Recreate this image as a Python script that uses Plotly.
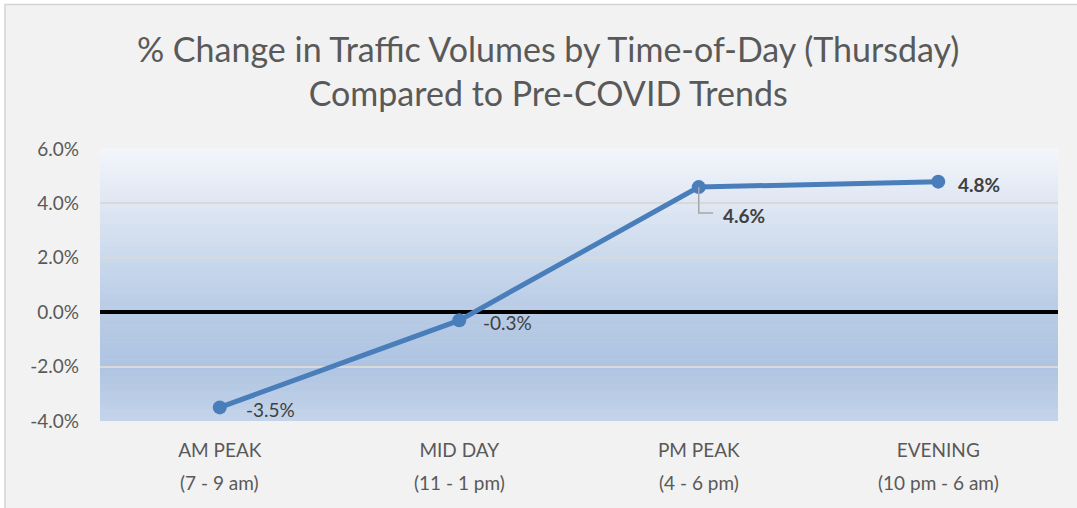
import plotly.graph_objects as go

categories = ["AM PEAK", "MID DAY", "PM PEAK", "EVENING"]
category_times = ["(7 - 9 am)", "(11 - 1 pm)", "(4 - 6 pm)", "(10 pm - 6 am)"]
values = [-3.5, -0.3, 4.6, 4.8]
value_labels = ["-3.5%", "-0.3%", "4.6%", "4.8%"]
label_bold = [False, False, True, True]
y_ticks = [-4, -2, 0, 2, 4, 6]
y_tick_labels = ["-4.0%", "-2.0%", "0.0%", "2.0%", "4.0%", "6.0%"]

W, H = 1077, 508
L, R, T, B = 100, 19, 149, 87
PW, PH = W - L - R, H - T - B
FONT = "Lato"

fig = go.Figure()
fig.add_trace(go.Scatter(
    x=categories, y=values, mode="lines+markers",
    line=dict(color="#4a7ebb", width=5),
    marker=dict(color="#4a7ebb", size=14),
    hoverinfo="skip", showlegend=False, cliponaxis=False,
))

shapes = []
def px2x(px):
    return (px - L) / PW
def py2y(py):
    return 1 - (py - T) / PH

shapes.append(dict(type="rect", xref="paper", yref="paper",
                   x0=px2x(5), x1=px2x(1100), y0=py2y(600), y1=py2y(4.5),
                   fillcolor="#f2f2f2", line=dict(color="#d4d4d4", width=1.5), layer="below"))

stops = [(0.0, (0xc4, 0xd4, 0xea)), (0.2, (0xae, 0xc4, 0xe1)), (0.4, (0xb8, 0xcb, 0xe5)),
         (0.6, (0xca, 0xd9, 0xec)), (0.8, (0xdf, 0xe7, 0xf3)), (1.0, (0xf3, 0xf6, 0xfb))]
def col(f):
    for (a, ca), (b, cb) in zip(stops[:-1], stops[1:]):
        if a <= f <= b:
            t = (f - a) / (b - a)
            c = [round(ca[i] + (cb[i] - ca[i]) * t) for i in range(3)]
            return "rgb(%d,%d,%d)" % tuple(c)
    return "rgb(243,246,251)"
N = 80
for i in range(N):
    f0, f1 = i / N, (i + 1) / N
    shapes.append(dict(type="rect", xref="x domain", yref="y domain", x0=0, x1=1,
                       y0=f0, y1=f1 + 0.002, fillcolor=col((f0 + f1) / 2),
                       line=dict(width=0), layer="below"))

pm = 2
shapes.append(dict(type="path", xref="x", yref="y",
                   path=f"M {pm},{values[pm]} L {pm},{values[pm]-0.95} L {pm+0.06},{values[pm]-0.95}",
                   line=dict(color="#a6a6a6", width=1.5), layer="above"))

annotations = []
offsets = [(24, 2), (22, 2), (22, 28), (18, 3)]
for i, (v, t, b) in enumerate(zip(values, value_labels, label_bold)):
    annotations.append(dict(x=i, y=v, xref="x", yref="y", text=f"<b>{t}</b>" if b else t,
                            showarrow=False, xanchor="left", yanchor="middle",
                            xshift=offsets[i][0], yshift=-offsets[i][1],
                            font=dict(family=FONT, size=19, color="#404040")))
for i, t in enumerate(category_times):
    annotations.append(dict(x=i, y=py2y(482), xref="x", yref="paper", text=t,
                            showarrow=False, xanchor="center", yanchor="middle",
                            font=dict(family=FONT, size=19, color="#595959")))

fig.update_layout(
    width=W, height=H,
    margin=dict(l=L, r=R, t=T, b=B),
    paper_bgcolor="white", plot_bgcolor="rgba(0,0,0,0)",
    title=dict(text="% Change in Traffic Volumes by Time-of-Day (Thursday)<br>Compared to Pre-COVID Trends",
               x=0.509, xanchor="center", y=1 - 62 / H, yanchor="top",
               font=dict(family=FONT, size=34, color="#595959")),
    shapes=shapes, annotations=annotations,
    xaxis=dict(type="category", range=[-0.5, 3.5], showgrid=False, zeroline=False,
               showline=False, ticks="", ticklabelstandoff=16,
               tickfont=dict(family=FONT, size=19, color="#595959"), fixedrange=True),
    yaxis=dict(range=[-4, 6], tickvals=y_ticks, ticktext=y_tick_labels,
               showgrid=True, gridcolor="#d9d9d9", gridwidth=2,
               zeroline=True, zerolinecolor="black", zerolinewidth=4,
               showline=False, ticks="", ticklabelstandoff=20,
               tickfont=dict(family=FONT, size=19, color="#595959"), fixedrange=True),
)
fig.write_html("out.html", config={"displayModeBar": False},
               post_script="document.body.style.margin='0';")
